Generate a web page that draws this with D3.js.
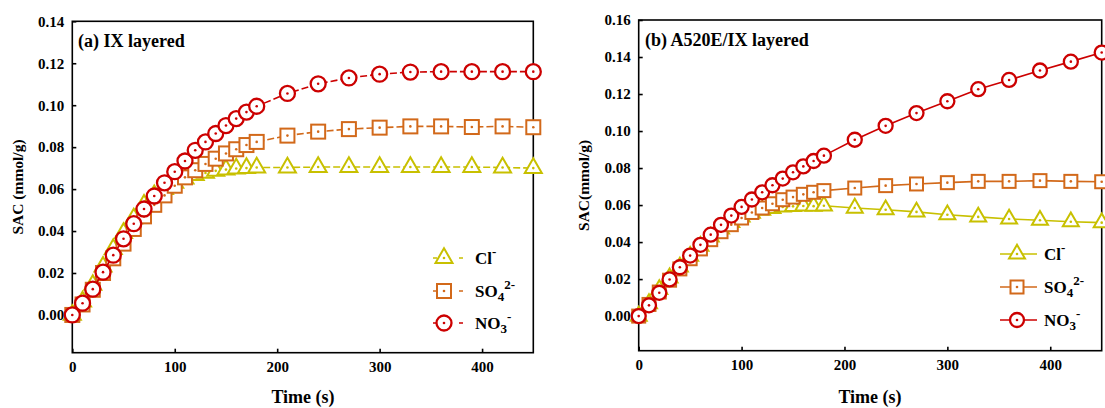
<!DOCTYPE html>
<html>
<head>
<meta charset="utf-8">
<script src="https://cdn.jsdelivr.net/npm/d3@7"></script>
<style>
  html, body { margin: 0; padding: 0; background: #fff; }
  svg { display: block; font-family: "Liberation Serif", "Times New Roman", serif; font-weight: bold; }
</style>
</head>
<body>
<svg id="chart" width="1105" height="408"></svg>
<script>
// ---- data ----
const times = [0,10,20,30,40,50,60,70,80,90,100,110,120,130,140,150,160,170,180,210,240,270,300,330,360,390,420,450];

// panel (a) IX layered
const clA  = [0,0.0064,0.0143,0.0230,0.0314,0.0390,0.0460,0.0525,0.0570,0.0600,0.0630,0.0650,0.0667,0.0677,0.0687,0.0693,0.0698,0.0700,0.0703,0.0703,0.0705,0.0705,0.0705,0.0705,0.0705,0.0705,0.0703,0.0700];
const so4A = [0,0.0050,0.0120,0.0200,0.0270,0.0340,0.0410,0.0470,0.0525,0.0570,0.0616,0.0656,0.0690,0.0720,0.0745,0.0770,0.0790,0.0810,0.0825,0.0855,0.0874,0.0886,0.0893,0.0899,0.0899,0.0896,0.0899,0.0895];
const no3A = [0,0.0056,0.0123,0.0204,0.0285,0.0363,0.0435,0.0505,0.0567,0.0630,0.0683,0.0734,0.0785,0.0825,0.0865,0.0903,0.0936,0.0967,0.0995,0.1056,0.1102,0.1130,0.1148,0.1158,0.1160,0.1160,0.1160,0.1160];

// panel (b) A520E/IX layered
const clB  = [0,0.0068,0.0144,0.0207,0.0266,0.0324,0.0378,0.0428,0.0471,0.0507,0.0536,0.0557,0.0572,0.0582,0.0590,0.0593,0.0595,0.0594,0.0596,0.0584,0.0575,0.0563,0.0548,0.0536,0.0525,0.0518,0.0510,0.0505];
const so4B = [0,0.0063,0.0130,0.0194,0.0255,0.0310,0.0363,0.0413,0.0456,0.0494,0.0530,0.0560,0.0584,0.0607,0.0629,0.0643,0.0658,0.0669,0.0678,0.0692,0.0705,0.0714,0.0721,0.0728,0.0728,0.0732,0.0728,0.0726];
const no3B = [0,0.0058,0.0126,0.0198,0.0264,0.0327,0.0385,0.0440,0.0493,0.0543,0.0590,0.0630,0.0669,0.0707,0.0743,0.0777,0.0809,0.0838,0.0867,0.0953,0.1028,0.1097,0.1161,0.1226,0.1276,0.1327,0.1375,0.1424];

const xTicks  = [0,100,200,300,400];
const yTicksA = [0,0.02,0.04,0.06,0.08,0.10,0.12,0.14];
const yTicksB = [0,0.02,0.04,0.06,0.08,0.10,0.12,0.14,0.16];
const seriesNames = ["Cl", "SO4", "NO3"];
const titles = ["(a) IX layered", "(b) A520E/IX layered"];
const yLabels = ["SAC (mmol/g)", "SAC(mmol/g)"];
const xLabel = "Time (s)";

// ---- styles ----
const colors = { Cl: "#c8c000", SO4: "#d2691a", NO3: "#cc0000" };

const svg = d3.select("#chart");

const panels = [
  { title: titles[0], yLabel: yLabels[0], series: [clA, so4A, no3A], yTicks: yTicksA,
    xRange: [72.3, 533.3], yDomain: [-0.018, 0.14], yRange: [352.7, 21.3],
    dash: "7,3", tickFont: 15, legend: { x: 444, x0: 433, x1: 463, tx: 475, ys: [258, 291, 323], dash: "4,22" },
    yLabelX: 18, xLabelX: 303, titleX: 78, titleY: 47, sizes: { r: 7.5, sq: 14, tri: 17 } },
  { title: titles[1], yLabel: yLabels[1], series: [clB, so4B, no3B], yTicks: yTicksB,
    xRange: [638.7, 1101.7], yDomain: [-0.0187, 0.16], yRange: [350.7, 20],
    dash: null, tickFont: 15, legend: { x: 1017, x0: 1000, x1: 1037, tx: 1044, ys: [254, 287, 320], dash: null },
    yLabelX: 584, xLabelX: 870, titleX: 645, titleY: 46, sizes: { r: 7, sq: 13, tri: 16 } }
];

function drawMarker(g, name, cx, cy, s) {
  const c = colors[name];
  if (name === "NO3") {
    g.append("circle").attr("cx", cx).attr("cy", cy).attr("r", s.r)
      .attr("fill", "#fff").attr("stroke", c).attr("stroke-width", 2.3);
  } else if (name === "SO4") {
    g.append("rect").attr("x", cx - s.sq / 2).attr("y", cy - s.sq / 2)
      .attr("width", s.sq).attr("height", s.sq)
      .attr("fill", "#fff").attr("stroke", c).attr("stroke-width", 2);
  } else {
    const h = s.tri * Math.sqrt(3) / 2;
    const pts = [[cx, cy - h * 2 / 3], [cx - s.tri / 2, cy + h / 3], [cx + s.tri / 2, cy + h / 3]];
    g.append("polygon").attr("points", pts.map(p => p.join(",")).join(" "))
      .attr("fill", "#fff").attr("stroke", c).attr("stroke-width", 2).attr("stroke-linejoin", "miter");
  }
  g.append("circle").attr("cx", cx).attr("cy", cy).attr("r", 1.3).attr("fill", c);
}

panels.forEach(p => {
  const x = d3.scaleLinear().domain([0, 450]).range(p.xRange);
  const y = d3.scaleLinear().domain(p.yDomain).range(p.yRange);
  const g = svg.append("g");

  // frame
  g.append("rect")
    .attr("x", p.xRange[0]).attr("y", p.yRange[1])
    .attr("width", p.xRange[1] - p.xRange[0]).attr("height", p.yRange[0] - p.yRange[1])
    .attr("fill", "none").attr("stroke", "#000").attr("stroke-width", 1.6);

  // axes
  const xa = g.append("g").attr("transform", `translate(0,${p.yRange[0]})`)
    .call(d3.axisBottom(x).tickValues(xTicks).tickFormat(d3.format("d"))
      .tickSizeInner(-4).tickSizeOuter(0).tickPadding(9));
  const ya = g.append("g").attr("transform", `translate(${p.xRange[0]},0)`)
    .call(d3.axisLeft(y).tickValues(p.yTicks).tickFormat(d3.format(".2f"))
      .tickSizeInner(-4).tickSizeOuter(0).tickPadding(8));
  [xa, ya].forEach(a => {
    a.select(".domain").remove();
    a.selectAll("line").attr("stroke", "#000").attr("stroke-width", 1.6);
    a.selectAll("text").attr("fill", "#000")
      .style("font-family", "'Liberation Serif', serif").style("font-weight", "bold")
      .style("font-size", p.tickFont + "px");
  });

  // axis titles
  g.append("text").attr("x", p.xLabelX).attr("y", 403).attr("text-anchor", "middle")
    .style("font-size", "18px").text(xLabel);
  g.append("text").attr("transform", `translate(${p.yLabelX},${(p.yRange[0] + p.yRange[1]) / 2}) rotate(-90)`)
    .attr("text-anchor", "middle").attr("dy", "0.35em")
    .style("font-size", "15.5px").text(p.yLabel);

  // panel title
  g.append("text").attr("x", p.titleX).attr("y", p.titleY)
    .style("font-size", "18px").text(p.title);

  // series
  const line = d3.line().x((d, i) => x(times[i])).y(d => y(d));
  p.series.forEach((vals, si) => {
    const name = seriesNames[si];
    const sg = g.append("g");
    sg.append("path").datum(vals).attr("d", line)
      .attr("fill", "none").attr("stroke", colors[name]).attr("stroke-width", 1.6)
      .attr("stroke-dasharray", p.dash);
    vals.forEach((v, i) => drawMarker(sg, name, x(times[i]), y(v), p.sizes));
  });

  // legend
  seriesNames.forEach((name, i) => {
    const ly = p.legend.ys[i];
    const lg = g.append("g");
    lg.append("line").attr("x1", p.legend.x0).attr("x2", p.legend.x1).attr("y1", ly).attr("y2", ly)
      .attr("stroke", colors[name]).attr("stroke-width", 1.6)
      .attr("stroke-dasharray", p.legend.dash);
    drawMarker(lg, name, p.legend.x, ly, p.sizes);
    const t = lg.append("text").attr("x", p.legend.tx).attr("y", ly + 6).style("font-size", "17px");
    if (name === "Cl") {
      t.append("tspan").text("Cl");
      t.append("tspan").attr("dy", -8).style("font-size", "13px").text("-");
    } else if (name === "SO4") {
      t.append("tspan").text("SO");
      t.append("tspan").attr("dy", 4).style("font-size", "13px").text("4");
      t.append("tspan").attr("dy", -12).style("font-size", "13px").text("2-");
    } else {
      t.append("tspan").text("NO");
      t.append("tspan").attr("dy", 4).style("font-size", "13px").text("3");
      t.append("tspan").attr("dy", -12).style("font-size", "13px").text("-");
    }
  });
});
</script>
</body>
</html>
